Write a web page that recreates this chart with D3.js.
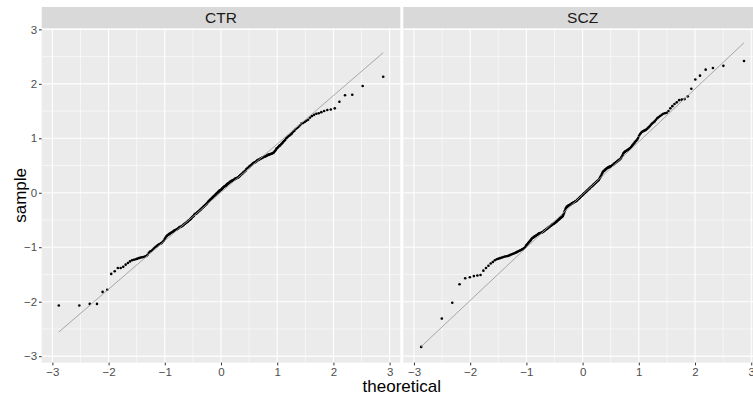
<!DOCTYPE html>
<html><head><meta charset="utf-8">
<script src="https://cdn.jsdelivr.net/npm/d3@7"></script>
<style>body{margin:0;background:#fff}svg{display:block}</style>
</head><body>
<svg id="chart" width="753" height="399"></svg>
<script>
// ---- data (sorted sample values) ----
const facets = ["CTR", "SCZ"];
const ctrSample = [
-2.07,-2.07,-2.04,-2.04,-1.82,-1.78,-1.49,-1.44,-1.38,-1.38,
-1.36,-1.32,-1.29,-1.26,-1.24,-1.23,-1.22,-1.21,-1.20,-1.19,
-1.185,-1.18,-1.17,-1.16,-1.14,-1.10,-1.08,-1.07,-1.05,-1.03,
-1.01,-0.99,-0.98,-0.96,-0.95,-0.94,-0.93,-0.92,-0.90,-0.88,
-0.85,-0.82,-0.80,-0.78,-0.77,-0.76,-0.75,-0.74,-0.73,-0.72,
-0.71,-0.70,-0.69,-0.685,-0.68,-0.67,-0.66,-0.65,-0.64,-0.63,
-0.625,-0.62,-0.61,-0.60,-0.59,-0.58,-0.57,-0.56,-0.55,-0.54,
-0.53,-0.52,-0.51,-0.50,-0.49,-0.48,-0.47,-0.45,-0.44,-0.43,
-0.42,-0.40,-0.39,-0.385,-0.38,-0.37,-0.36,-0.35,-0.34,-0.33,
-0.32,-0.31,-0.30,-0.29,-0.28,-0.27,-0.26,-0.25,-0.24,-0.23,
-0.22,-0.21,-0.20,-0.19,-0.17,-0.16,-0.15,-0.14,-0.13,-0.12,
-0.11,-0.10,-0.09,-0.08,-0.07,-0.06,-0.05,-0.04,-0.03,-0.02,
-0.01,0.00,0.01,0.02,0.03,0.04,0.045,0.05,
0.06,0.07,0.08,0.09,0.10,0.11,0.12,0.125,0.13,0.14,
0.15,0.16,0.17,0.175,0.18,0.19,0.20,0.205,0.21,0.22,
0.225,0.23,0.235,0.24,0.25,0.255,0.26,0.265,0.27,0.275,
0.28,0.29,0.30,0.31,0.32,0.33,0.34,0.35,0.36,0.37,
0.38,0.39,0.40,0.41,0.43,0.44,0.45,0.46,0.47,0.48,
0.49,0.50,0.51,0.52,0.53,0.54,0.55,0.555,0.56,0.57,
0.58,0.59,0.60,0.605,0.61,0.62,0.63,0.635,0.64,0.65,
0.655,0.66,0.665,0.67,0.68,0.69,0.695,0.70,0.705,0.71,
0.715,0.72,0.73,0.74,0.76,0.78,0.81,0.82,0.84,0.86,
0.87,0.89,0.91,0.93,0.95,0.97,1.00,1.02,1.04,1.05,
1.07,1.09,1.12,1.14,1.17,1.19,1.21,1.24,1.27,1.28,
1.30,1.32,1.34,1.38,1.41,1.43,1.45,1.46,1.48,1.50,
1.52,1.53,1.55,1.67,1.79,1.80,1.96,2.13];
const sczSample = [
-2.83,-2.31,-2.02,-1.68,-1.57,-1.55,-1.53,-1.52,-1.51,-1.43,
-1.38,-1.34,-1.30,-1.27,-1.24,-1.22,-1.21,-1.20,-1.19,-1.18,
-1.17,-1.165,-1.16,-1.15,-1.14,-1.13,-1.12,-1.11,-1.10,-1.09,
-1.08,-1.07,-1.06,-1.05,-1.04,-1.03,-1.02,-1.00,-0.97,-0.95,
-0.93,-0.91,-0.89,-0.87,-0.85,-0.83,-0.82,-0.81,-0.80,-0.79,
-0.78,-0.77,-0.76,-0.75,-0.745,-0.74,-0.735,-0.73,-0.72,-0.71,
-0.70,-0.69,-0.68,-0.67,-0.66,-0.65,-0.64,-0.63,-0.62,-0.61,
-0.60,-0.59,-0.58,-0.575,-0.57,-0.56,-0.55,-0.54,-0.53,-0.52,
-0.51,-0.50,-0.49,-0.48,-0.47,-0.46,-0.45,-0.44,-0.43,-0.41,
-0.38,-0.35,-0.32,-0.29,-0.27,-0.26,-0.25,-0.24,-0.235,-0.23,
-0.22,-0.215,-0.21,-0.20,-0.195,-0.19,-0.18,-0.175,-0.17,-0.16,
-0.155,-0.15,-0.14,-0.13,-0.12,-0.11,-0.10,-0.09,-0.08,-0.07,
-0.06,-0.05,-0.04,-0.03,-0.02,-0.01,0.00,0.01,0.02,0.03,
0.04,0.05,0.06,0.07,0.08,0.09,0.10,0.11,0.12,0.13,
0.14,0.15,0.16,0.17,0.18,0.19,0.20,0.21,0.22,0.23,
0.24,0.26,0.28,0.30,0.32,0.35,0.37,0.39,0.40,0.41,
0.42,0.43,0.44,0.45,0.46,0.465,0.47,0.475,0.48,0.485,
0.49,0.50,0.51,0.52,0.53,0.54,0.55,0.56,0.57,0.58,
0.59,0.60,0.61,0.62,0.64,0.66,0.69,0.72,0.74,0.75,
0.76,0.77,0.78,0.79,0.80,0.81,0.82,0.84,0.86,0.88,
0.90,0.92,0.94,0.96,0.98,1.01,1.05,1.08,1.10,1.12,
1.13,1.14,1.15,1.16,1.18,1.20,1.22,1.25,1.27,1.29,
1.31,1.34,1.37,1.39,1.41,1.43,1.45,1.46,1.47,1.50,
1.55,1.59,1.63,1.66,1.70,1.71,1.72,1.77,1.91,2.08,
2.15,2.26,2.29,2.33,2.42];
const majorTicks = [-3, -2, -1, 0, 1, 2, 3];
const minorTicks = [-2.5, -1.5, -0.5, 0.5, 1.5, 2.5];
const xTitle = "theoretical", yTitle = "sample";

// ---- stat_qq helpers ----
function qnorm(p){
  const a=[-3.969683028665376e+01,2.209460984245205e+02,-2.759285104469687e+02,1.383577518672690e+02,-3.066479806614716e+01,2.506628277459239e+00];
  const b=[-5.447609879822406e+01,1.615858368580409e+02,-1.556989798598866e+02,6.680131188771972e+01,-1.328068155288572e+01];
  const c=[-7.784894002430293e-03,-3.223964580411365e-01,-2.400758277161838e+00,-2.549732539343734e+00,4.374664141464968e+00,2.938163982698783e+00];
  const d=[7.784695709041462e-03,3.224671290700398e-01,2.445134137142996e+00,3.754408661907416e+00];
  const pl=0.02425; let q,r;
  if(p<pl){q=Math.sqrt(-2*Math.log(p));return (((((c[0]*q+c[1])*q+c[2])*q+c[3])*q+c[4])*q+c[5])/((((d[0]*q+d[1])*q+d[2])*q+d[3])*q+1);}
  if(p<=1-pl){q=p-0.5;r=q*q;return (((((a[0]*r+a[1])*r+a[2])*r+a[3])*r+a[4])*r+a[5])*q/(((((b[0]*r+b[1])*r+b[2])*r+b[3])*r+b[4])*r+1);}
  q=Math.sqrt(-2*Math.log(1-p));return -(((((c[0]*q+c[1])*q+c[2])*q+c[3])*q+c[4])*q+c[5])/((((d[0]*q+d[1])*q+d[2])*q+d[3])*q+1);
}
function qq(sample){
  const s = sample.slice().sort(d3.ascending), n = s.length;
  const pts = s.map((v,i)=>({t: qnorm((i+1-0.5)/n), s: v}));
  const y1 = d3.quantile(s,0.25), y2 = d3.quantile(s,0.75);
  const x1 = qnorm(0.25), x2 = qnorm(0.75);
  const slope = (y2-y1)/(x2-x1), icpt = y1 - slope*x1;
  const tmin = pts[0].t, tmax = pts[n-1].t;
  return {pts, line:[{t:tmin,s:icpt+slope*tmin},{t:tmax,s:icpt+slope*tmax}]};
}

// ---- layout ----
const svg = d3.select("#chart");
const panelTop = 28, panelBottom = 362.7, stripTop = 7;
const panelW = 358.6, gap = 3, left0 = 41.7;
const y = d3.scaleLinear().domain([-3.12, 3.025]).range([panelBottom, panelTop]);
const data = [qq(ctrSample), qq(sczSample)];
const font = "Liberation Sans, Arial, Helvetica, sans-serif";

const defs = svg.append("defs");

facets.forEach((name, k) => {
  const x0 = left0 + k*(panelW+gap);
  const x = d3.scaleLinear().domain([-3.19, 3.19]).range([x0, x0+panelW]);
  defs.append("clipPath").attr("id","clip"+k).append("rect")
    .attr("x", x0).attr("y", panelTop).attr("width", panelW).attr("height", panelBottom-panelTop);
  const g = svg.append("g");
  // strip
  g.append("rect").attr("x", x0).attr("y", stripTop).attr("width", panelW).attr("height", panelTop-stripTop).attr("fill","#D9D9D9");
  g.append("text").attr("x", x0+panelW/2).attr("y", 23.3).attr("text-anchor","middle")
    .attr("font-family", font).attr("font-size", 15.5).attr("fill","#1A1A1A").text(name);
  // panel
  g.append("rect").attr("x", x0).attr("y", panelTop).attr("width", panelW).attr("height", panelBottom-panelTop).attr("fill","#EBEBEB");
  const grid = g.append("g").attr("clip-path","url(#clip"+k+")");
  minorTicks.forEach(v=>{
    grid.append("line").attr("x1",x(v)).attr("x2",x(v)).attr("y1",panelTop).attr("y2",panelBottom).attr("stroke","#fff").attr("stroke-width",0.55);
    grid.append("line").attr("x1",x0).attr("x2",x0+panelW).attr("y1",y(v)).attr("y2",y(v)).attr("stroke","#fff").attr("stroke-width",0.55);
  });
  majorTicks.forEach(v=>{
    grid.append("line").attr("x1",x(v)).attr("x2",x(v)).attr("y1",panelTop).attr("y2",panelBottom).attr("stroke","#fff").attr("stroke-width",1.1);
    grid.append("line").attr("x1",x0).attr("x2",x0+panelW).attr("y1",y(v)).attr("y2",y(v)).attr("stroke","#fff").attr("stroke-width",1.1);
  });
  const d = data[k];
  const marks = g.append("g").attr("clip-path","url(#clip"+k+")");
  marks.selectAll("circle").data(d.pts).join("circle")
    .attr("cx", p=>x(p.t)).attr("cy", p=>y(p.s)).attr("r", 1.3).attr("fill","#000");
  marks.append("path").datum(d.line)
    .attr("d", d3.line().x(p=>x(p.t)).y(p=>y(p.s)))
    .attr("stroke","#9E9E9E").attr("stroke-width",0.9).attr("fill","none");
  // x axis
  const xa = g.append("g").attr("transform",`translate(0,${panelBottom})`)
    .call(d3.axisBottom(x).tickValues(majorTicks).tickSize(2.7).tickPadding(2).tickFormat(d3.format("d")));
  xa.select(".domain").remove();
  xa.selectAll("line").attr("stroke","#333333");
  xa.selectAll("text").attr("font-family",font).attr("font-size",11.5).attr("fill","#4D4D4D");
});

// y axis (left only)
const ya = svg.append("g").attr("transform",`translate(${left0},0)`)
  .call(d3.axisLeft(y).tickValues(majorTicks).tickSize(2.7).tickPadding(1.8).tickFormat(d3.format("d")));
ya.select(".domain").remove();
ya.selectAll("line").attr("stroke","#333333");
ya.selectAll("text").attr("font-family",font).attr("font-size",11.5).attr("fill","#4D4D4D");

// titles
svg.append("text").attr("x", left0 + panelW + gap/2).attr("y", 392).attr("text-anchor","middle")
  .attr("font-family",font).attr("font-size",17).attr("fill","#000").text(xTitle);
svg.append("text").attr("transform",`translate(26,${(panelTop+panelBottom)/2}) rotate(-90)`).attr("text-anchor","middle")
  .attr("font-family",font).attr("font-size",17).attr("fill","#000").text(yTitle);
</script>
</body></html>
